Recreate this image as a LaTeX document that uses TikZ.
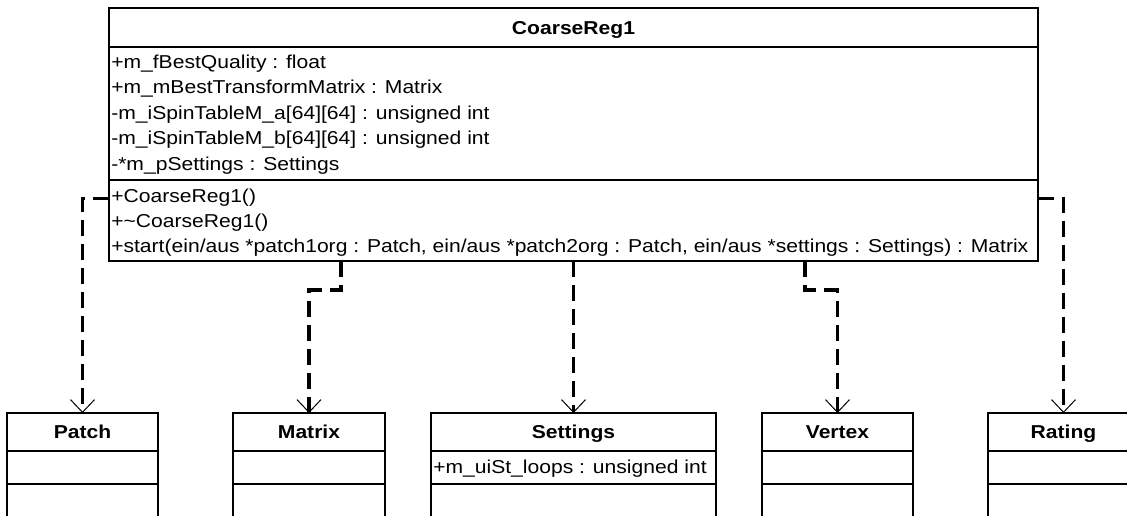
\documentclass[tikz,border=0pt]{standalone}
\usepackage{fontspec}
\setmainfont{Liberation Sans}[FakeStretch=1.13]
\usetikzlibrary{arrows.meta,calc}

\tikzset{
  classbox/.style={draw, line width=1.1pt, inner sep=0pt, outer sep=0pt, anchor=north west},
  divider/.style={line width=1.1pt},
  title/.style={anchor=base, inner sep=0pt, font=\fontsize{14}{16}\selectfont\bfseries},
  member/.style={anchor=base west, inner sep=0pt, font=\fontsize{14}{16}\selectfont},
  dep/.style={line width=2.4pt, dash pattern=on 12pt off 6pt, line join=miter,
    -{Straight Barb[length=9.5pt, width=18pt, line width=0.75pt]}}
}

\begin{document}
\begin{tikzpicture}[x=0.75pt, y=-0.75pt]
  \useasboundingbox (0,0) rectangle (1127,515);
  \fill[white] (0,0) rectangle (1127,515);
  \clip (0,0) rectangle (1127,515);

  % main class
  \node[classbox, minimum width=929*0.75pt, minimum height=253*0.75pt] (coarse) at (109,8) {};
  \draw[divider] ($(coarse.north west)+(0,39)$) -- ($(coarse.north east)+(0,39)$);
  \draw[divider] ($(coarse.north west)+(0,172)$) -- ($(coarse.north east)+(0,172)$);
  \node[title] (coarset) at ($(coarse.north)+(0,26.5)$) {CoarseReg1};

  \node[member] (a1) at (111,68) {+m\_fBestQuality : float};
  \node[member] (a2) at (111,93.5) {+m\_mBestTransformMatrix : Matrix};
  \node[member] (a3) at (111,119) {-m\_iSpinTableM\_a[64][64] : unsigned int};
  \node[member] (a4) at (111,144.5) {-m\_iSpinTableM\_b[64][64] : unsigned int};
  \node[member] (a5) at (111,170) {-*m\_pSettings : Settings};

  \node[member] (m1) at (111,202) {+CoarseReg1()};
  \node[member] (m2) at (111,227) {+\textasciitilde CoarseReg1()};
  \node[member] (m3) at (111,252) {+start(ein/aus *patch1org : Patch, ein/aus *patch2org : Patch, ein/aus *settings : Settings) : Matrix};

  % used classes
  \node[classbox, minimum width=151*0.75pt, minimum height=120*0.75pt] (patch) at (7,413) {};
  \node[classbox, minimum width=152*0.75pt, minimum height=120*0.75pt] (matrix) at (233,413) {};
  \node[classbox, minimum width=285*0.75pt, minimum height=120*0.75pt] (settings) at (431,413) {};
  \node[classbox, minimum width=151*0.75pt, minimum height=120*0.75pt] (vertex) at (762,413) {};
  \node[classbox, minimum width=151*0.75pt, minimum height=120*0.75pt] (rating) at (988,413) {};

  \foreach \n in {patch,matrix,settings,vertex,rating} {
    \draw[divider] ($(\n.north west)+(0,38)$) -- ($(\n.north east)+(0,38)$);
    \draw[divider] ($(\n.north west)+(0,71)$) -- ($(\n.north east)+(0,71)$);
  }

  \node[title] (patcht) at ($(patch.north)+(0,25.5)$) {Patch};
  \node[title] (matrixt) at ($(matrix.north)+(0,25.5)$) {Matrix};
  \node[title] (settingst) at ($(settings.north)+(0,25.5)$) {Settings};
  \node[title] (vertext) at ($(vertex.north)+(0,25.5)$) {Vertex};
  \node[title] (ratingt) at ($(rating.north)+(0,25.5)$) {Rating};
  \node[member] (s1) at ($(settings.north west)+(2,60.5)$) {+m\_uiSt\_loops : unsigned int};

  % dependencies
  \draw[dep] (coarse.west |- m1.mid) -| (patch.north);
  \draw[dep] ($(coarse.south west)+(232,0)$) -- ++(0,29) -| (matrix.north);
  \draw[dep] (settings.north |- coarse.south) -- (settings.north);
  \draw[dep] ($(coarse.south west)+(696,0)$) -- ++(0,29) -| (vertex.north);
  \draw[dep] (coarse.east |- m1.mid) -| (rating.north);
\end{tikzpicture}
\end{document}
